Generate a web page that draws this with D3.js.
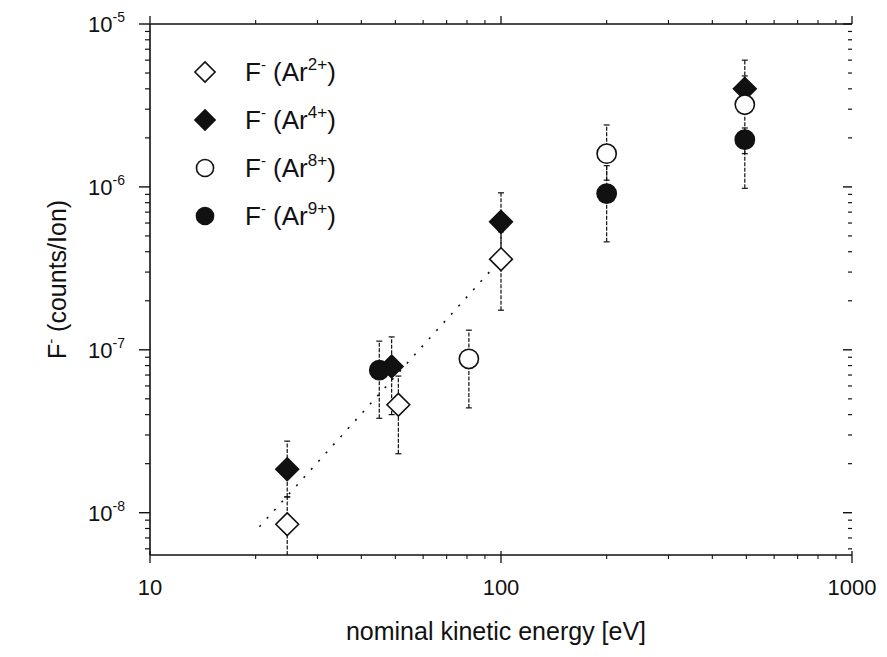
<!DOCTYPE html>
<html>
<head>
<meta charset="utf-8">
<script src="https://cdn.jsdelivr.net/npm/d3@7"></script>
<style>
  html, body { margin: 0; padding: 0; background: #fff; }
  svg { display: block; font-family: "Liberation Sans", Arial, Helvetica, sans-serif; }
</style>
</head>
<body>
<svg id="chart" width="887" height="657"></svg>
<script>
// ---------- data ----------
const xTickValues = [10, 100, 1000];
const xTickLabels = ["10", "100", "1000"];
const yTickExponents = [-5, -6, -7, -8];

const seriesNames = ["Ar2+", "Ar4+", "Ar8+", "Ar9+"];
const legendCharges = ["2+", "4+", "8+", "9+"];

const energyAr2 = [24.6, 51, 100];
const valueAr2 = [8.5e-9, 4.6e-8, 3.6e-7];
const errLowAr2 = [4.0e-9, 2.3e-8, 1.75e-7];
const errHighAr2 = [1.25e-8, 6.9e-8, 5.3e-7];

const energyAr4 = [24.6, 48.8, 100, 495];
const valueAr4 = [1.85e-8, 7.9e-8, 6.1e-7, 4.0e-6];
const errLowAr4 = [1.25e-8, 4.0e-8, 4.0e-7, 2.8e-6];
const errHighAr4 = [2.75e-8, 1.2e-7, 9.2e-7, 6.0e-6];

const energyAr8 = [81, 200, 495];
const valueAr8 = [8.8e-8, 1.6e-6, 3.2e-6];
const errLowAr8 = [4.4e-8, 1.1e-6, 1.6e-6];
const errHighAr8 = [1.32e-7, 2.4e-6, 4.8e-6];

const energyAr9 = [45, 200, 495];
const valueAr9 = [7.5e-8, 9.1e-7, 1.95e-6];
const errLowAr9 = [3.8e-8, 4.6e-7, 9.8e-7];
const errHighAr9 = [1.13e-7, 1.35e-6, 2.3e-6];

// dotted power-law fit through the Ar2+ data
const fitEnergy = [20.5, 100];
const fitValue = [8.2e-9, 3.6e-7];

// ---------- layout ----------
const svg = d3.select("#chart");
const pLeft = 150, pRight = 852, pTop = 24, pBottom = 555;

const x = d3.scaleLog().domain([10, 1000]).range([pLeft, pRight]);
const y = d3.scaleLog().domain([5.5e-9, 1e-5]).range([pBottom, pTop]);

const ink = "#111";

// ---------- frame lines ----------
svg.append("line").attr("x1", pLeft).attr("x2", pRight).attr("y1", pTop).attr("y2", pTop)
  .attr("stroke", ink).attr("stroke-width", 1.6);
svg.append("line").attr("x1", pLeft).attr("x2", pRight).attr("y1", pBottom).attr("y2", pBottom)
  .attr("stroke", ink).attr("stroke-width", 1.6);
svg.append("line").attr("x1", pLeft).attr("x2", pLeft).attr("y1", pTop).attr("y2", pBottom)
  .attr("stroke", ink).attr("stroke-width", 1.6);

// ---------- ticks ----------
const yMinor = [];
for (let e = -9; e <= -6; e++) for (let m = 2; m <= 9; m++) {
  const v = m * Math.pow(10, e);
  if (v >= y.domain()[0] && v <= y.domain()[1]) yMinor.push(v);
}
const yMajor = yTickExponents.map(e => Math.pow(10, e));

const xMinor = [];
for (let e = 1; e <= 2; e++) for (let m = 2; m <= 9; m++) xMinor.push(m * Math.pow(10, e));

// left axis ticks (outward)
const gL = svg.append("g");
gL.selectAll("line.mn").data(yMinor).join("line")
  .attr("x1", pLeft - 5).attr("x2", pLeft).attr("y1", d => y(d)).attr("y2", d => y(d))
  .attr("stroke", ink).attr("stroke-width", 1.2);
gL.selectAll("line.mj").data(yMajor).join("line")
  .attr("x1", pLeft - 11).attr("x2", pLeft).attr("y1", d => y(d)).attr("y2", d => y(d))
  .attr("stroke", ink).attr("stroke-width", 1.4);

// right side ticks (inward, no spine)
const gR = svg.append("g");
gR.selectAll("line.mn").data(yMinor).join("line")
  .attr("x1", pRight - 4).attr("x2", pRight).attr("y1", d => y(d)).attr("y2", d => y(d))
  .attr("stroke", ink).attr("stroke-width", 1.2);
gR.selectAll("line.mj").data(yMajor).join("line")
  .attr("x1", pRight - 9).attr("x2", pRight).attr("y1", d => y(d)).attr("y2", d => y(d))
  .attr("stroke", ink).attr("stroke-width", 1.4);

// bottom ticks (outward)
const gB = svg.append("g");
gB.selectAll("line.mn").data(xMinor).join("line")
  .attr("x1", d => x(d)).attr("x2", d => x(d)).attr("y1", pBottom).attr("y2", pBottom + 4)
  .attr("stroke", ink).attr("stroke-width", 1.1);
gB.selectAll("line.mj").data(xTickValues).join("line")
  .attr("x1", d => x(d)).attr("x2", d => x(d)).attr("y1", pBottom - 4).attr("y2", pBottom + 8)
  .attr("stroke", ink).attr("stroke-width", 1.3);

// top ticks (outward)
const gT = svg.append("g");
gT.selectAll("line.mn").data(xMinor).join("line")
  .attr("x1", d => x(d)).attr("x2", d => x(d)).attr("y1", pTop - 4).attr("y2", pTop)
  .attr("stroke", ink).attr("stroke-width", 1.1);
gT.selectAll("line.mj").data(xTickValues).join("line")
  .attr("x1", d => x(d)).attr("x2", d => x(d)).attr("y1", pTop - 8).attr("y2", pTop)
  .attr("stroke", ink).attr("stroke-width", 1.3);

// ---------- tick labels ----------
const xl = svg.append("g").attr("font-size", 22).attr("fill", ink);
xl.selectAll("text").data(xTickValues).join("text")
  .attr("x", d => x(d)).attr("y", pBottom + 40)
  .attr("text-anchor", "middle")
  .text((d, i) => xTickLabels[i]);

const yl = svg.append("g").attr("fill", ink);
yTickExponents.forEach(e => {
  const t = yl.append("text").attr("x", pLeft - 62).attr("y", y(Math.pow(10, e)) + 8)
    .attr("font-size", 22);
  t.append("tspan").text("10");
  t.append("tspan").attr("dy", -10).attr("font-size", 14).text("-" + Math.abs(e));
});

// ---------- axis titles ----------
svg.append("text").attr("x", (pLeft + pRight) / 2 - 5).attr("y", 640)
  .attr("text-anchor", "middle").attr("font-size", 25).attr("fill", ink)
  .text("nominal kinetic energy [eV]");

const yt = svg.append("text")
  .attr("transform", `translate(66, ${(pTop + pBottom) / 2 - 10}) rotate(-90)`)
  .attr("text-anchor", "middle").attr("font-size", 25).attr("fill", ink);
yt.append("tspan").text("F");
yt.append("tspan").attr("dy", -10).attr("font-size", 15).text("-");
yt.append("tspan").attr("dy", 10).text(" (counts/Ion)");

// ---------- fit line ----------
const fitData = fitEnergy.map((e, i) => [e, fitValue[i]]);
svg.append("path")
  .attr("d", d3.line().x(d => x(d[0])).y(d => y(d[1]))(fitData))
  .attr("fill", "none").attr("stroke", ink).attr("stroke-width", 1.6)
  .attr("stroke-dasharray", "2,9");

// ---------- series ----------
function makeSeries(energy, value, lo, hi) {
  return energy.map((e, i) => ({ e, v: value[i], lo: lo[i], hi: hi[i] }));
}
const series = [
  { name: seriesNames[0], data: makeSeries(energyAr2, valueAr2, errLowAr2, errHighAr2), shape: d3.symbolDiamond2, fill: "#fff" },
  { name: seriesNames[1], data: makeSeries(energyAr4, valueAr4, errLowAr4, errHighAr4), shape: d3.symbolDiamond2, fill: ink },
  { name: seriesNames[2], data: makeSeries(energyAr8, valueAr8, errLowAr8, errHighAr8), shape: d3.symbolCircle, fill: "#fff" },
  { name: seriesNames[3], data: makeSeries(energyAr9, valueAr9, errLowAr9, errHighAr9), shape: d3.symbolCircle, fill: ink }
];

const yMinDom = y.domain()[0];
const errG = svg.append("g").attr("stroke", ink).attr("stroke-width", 1.2);
series.forEach(s => {
  s.data.forEach(d => {
    const cx = x(d.e);
    const yl0 = y(Math.max(d.lo, yMinDom)), yh = y(d.hi);
    errG.append("line").attr("x1", cx).attr("x2", cx).attr("y1", yl0).attr("y2", yh)
      .attr("stroke-dasharray", "4,1.5");
    errG.append("line").attr("x1", cx - 3).attr("x2", cx + 3).attr("y1", yh).attr("y2", yh);
    if (d.lo >= yMinDom) errG.append("line").attr("x1", cx - 3).attr("x2", cx + 3).attr("y1", yl0).attr("y2", yl0);
  });
});

function symSize(shape) { return shape === d3.symbolCircle ? 290 : 330; }

series.forEach(s => {
  svg.append("g").selectAll("path").data(s.data).join("path")
    .attr("transform", d => `translate(${x(d.e)},${y(d.v)})`)
    .attr("d", d3.symbol().type(s.shape).size(symSize(s.shape)))
    .attr("fill", s.fill).attr("stroke", ink).attr("stroke-width", 1.6);
});

// ---------- legend ----------
const legY = [72, 120, 168, 216];
const leg = svg.append("g");
series.forEach((s, i) => {
  leg.append("path")
    .attr("transform", `translate(205,${legY[i]})`)
    .attr("d", d3.symbol().type(s.shape).size(s.shape === d3.symbolCircle ? 230 : 260))
    .attr("fill", s.fill).attr("stroke", ink).attr("stroke-width", 1.6);
  const t = leg.append("text").attr("x", 245).attr("y", legY[i] + 9)
    .attr("font-size", 26).attr("fill", ink);
  t.append("tspan").text("F");
  t.append("tspan").attr("dy", -11).attr("font-size", 15).text("-");
  t.append("tspan").attr("dy", 11).text("  (Ar");
  t.append("tspan").attr("dy", -11).attr("font-size", 17).text(legendCharges[i]);
  t.append("tspan").attr("dy", 11).text(")");
});
</script>
</body>
</html>
